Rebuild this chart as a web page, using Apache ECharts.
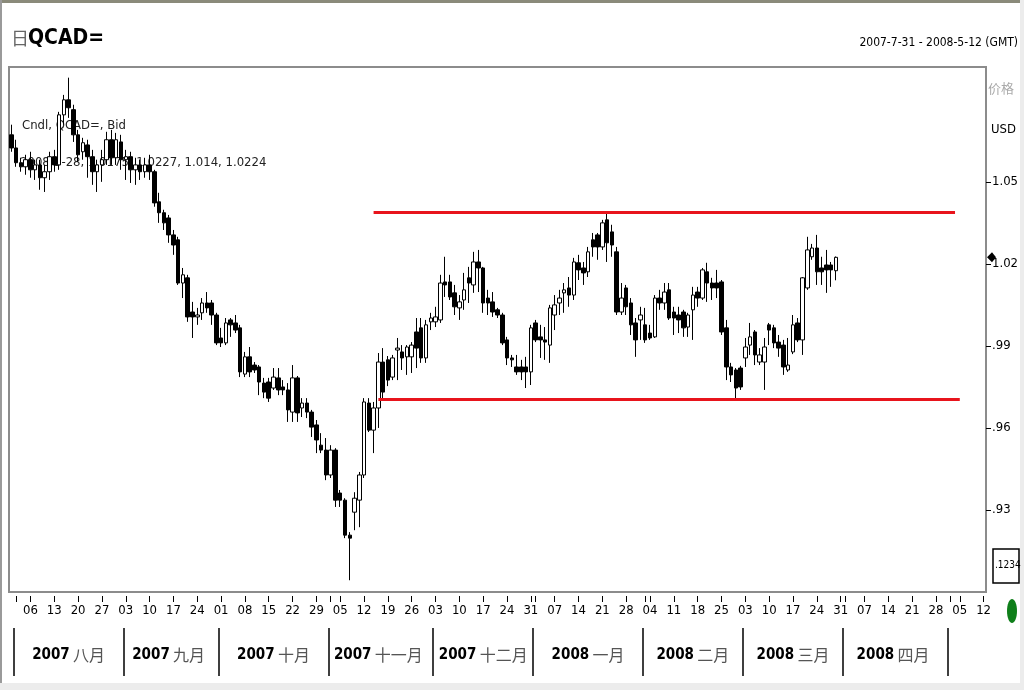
<!DOCTYPE html>
<html><head><meta charset="utf-8">
<script src="https://cdn.jsdelivr.net/npm/echarts@6/dist/echarts.min.js"></script>
<style>html,body{margin:0;padding:0;background:#fff}#c{width:1024px;height:690px}</style>
</head><body><div id="c"></div>
<script>
// ---- data ----
const firstDay = '2007-07-31';
const lastDay = '2008-05-12';
const opens = [
1.0672,1.0624,1.0570,1.0555,1.0581,1.0544,1.0562,1.0515,1.0537,1.0592,
1.0562,1.0745,1.0800,1.0764,1.0672,1.0610,1.0635,1.0592,1.0537,1.0562,
1.0581,1.0654,1.0588,1.0646,1.0581,1.0592,1.0544,1.0562,1.0537,1.0562,
1.0537,1.0427,1.0387,1.0368,1.0306,1.0288,1.0130,1.0149,1.0024,1.0006,
1.0021,1.0057,1.0057,1.0013,0.9929,0.9911,0.9995,0.9984,0.9966,0.9797,
0.9860,0.9830,0.9823,0.9764,0.9768,0.9746,0.9783,0.9750,0.9739,0.9658,
0.9783,0.9673,0.9691,0.9658,0.9611,0.9537,0.9519,0.9428,0.9519,0.9362,
0.9336,0.9208,0.9292,0.9336,0.9428,0.9691,0.9592,0.9673,0.9841,0.9849,
0.9786,0.9885,0.9878,0.9860,0.9860,0.9951,0.9966,0.9856,0.9988,0.9988,
0.9995,1.0134,1.0134,1.0094,1.0039,1.0068,1.0149,1.0123,1.0207,1.0185,
1.0075,1.0061,1.0032,1.0013,0.9922,0.9856,0.9823,0.9823,0.9823,0.9805,
0.9984,0.9933,0.9922,0.9903,1.0013,1.0057,1.0094,1.0112,1.0086,1.0204,
1.0185,1.0171,1.0288,1.0306,1.0262,1.0361,1.0317,1.0244,1.0024,1.0112,
1.0057,0.9984,0.9995,0.9977,0.9947,0.9933,1.0075,1.0057,1.0105,1.0024,
1.0013,1.0024,0.9969,1.0032,1.0097,1.0075,1.0171,1.0130,1.0130,1.0134,
0.9966,0.9823,0.9812,0.9819,0.9856,0.9903,0.9951,0.9841,0.9841,0.9977,
0.9966,0.9914,0.9903,0.9812,0.9878,0.9984,0.9922,1.0112,1.0226,1.0258,
1.0185,1.0196,1.0196,1.0175];
const closes = [
1.0624,1.0570,1.0555,1.0581,1.0544,1.0562,1.0515,1.0537,1.0592,1.0562,
1.0745,1.0800,1.0771,1.0672,1.0599,1.0643,1.0592,1.0537,1.0562,1.0581,
1.0654,1.0588,1.0654,1.0581,1.0592,1.0544,1.0562,1.0537,1.0562,1.0537,
1.0423,1.0387,1.0350,1.0306,1.0269,1.0130,1.0160,1.0006,1.0006,1.0013,
1.0057,1.0039,1.0013,0.9911,0.9911,0.9984,0.9977,0.9958,0.9805,0.9860,
0.9805,0.9812,0.9768,0.9731,0.9709,0.9786,0.9739,0.9739,0.9666,0.9783,
0.9655,0.9691,0.9658,0.9603,0.9556,0.9519,0.9428,0.9519,0.9336,0.9336,
0.9208,0.9197,0.9343,0.9428,0.9695,0.9592,0.9673,0.9841,0.9731,0.9775,
0.9856,0.9892,0.9856,0.9896,0.9903,0.9892,0.9856,0.9977,1.0002,1.0006,
1.0130,1.0123,1.0079,1.0043,1.0061,1.0105,1.0130,1.0207,1.0185,1.0057,
1.0057,1.0024,1.0013,0.9911,0.9856,0.9849,0.9805,0.9805,0.9805,0.9966,
0.9922,0.9922,0.9914,1.0039,1.0050,1.0075,1.0105,1.0086,1.0207,1.0178,
1.0167,1.0244,1.0262,1.0262,1.0350,1.0277,1.0269,1.0024,1.0075,1.0043,
0.9977,0.9922,1.0013,0.9922,0.9929,1.0075,1.0057,1.0097,1.0002,1.0002,
0.9995,0.9966,1.0013,1.0086,1.0075,1.0178,1.0130,1.0112,1.0112,0.9951,
0.9823,0.9794,0.9746,0.9750,0.9896,0.9933,0.9867,0.9867,0.9896,0.9958,
0.9911,0.9892,0.9823,0.9830,0.9977,0.9922,1.0149,1.0251,1.0258,1.0171,
1.0171,1.0178,1.0178,1.0224];
const lows = [
1.0610,1.0555,1.0537,1.0526,1.0515,1.0507,1.0471,1.0463,1.0507,1.0537,
1.0544,1.0709,1.0734,1.0646,1.0573,1.0581,1.0515,1.0489,1.0463,1.0500,
1.0562,1.0562,1.0562,1.0544,1.0507,1.0496,1.0489,1.0507,1.0515,1.0507,
1.0409,1.0350,1.0324,1.0277,1.0233,1.0123,1.0075,0.9988,0.9929,0.9977,
0.9995,1.0021,0.9977,0.9903,0.9896,0.9903,0.9933,0.9947,0.9786,0.9786,
0.9786,0.9801,0.9720,0.9709,0.9695,0.9739,0.9720,0.9720,0.9622,0.9622,
0.9622,0.9640,0.9636,0.9567,0.9508,0.9508,0.9409,0.9417,0.9311,0.9311,
0.9197,0.9043,0.9226,0.9237,0.9417,0.9585,0.9508,0.9600,0.9702,0.9753,
0.9775,0.9775,0.9812,0.9794,0.9801,0.9819,0.9838,0.9838,0.9958,0.9969,
0.9984,1.0079,1.0068,1.0013,0.9995,1.0032,1.0057,1.0094,1.0097,1.0021,
1.0013,1.0006,1.0002,0.9903,0.9830,0.9823,0.9794,0.9775,0.9746,0.9757,
0.9914,0.9856,0.9849,0.9838,0.9958,1.0013,1.0021,1.0043,1.0068,1.0141,
1.0123,1.0152,1.0226,1.0215,1.0251,1.0207,1.0226,1.0013,1.0013,1.0013,
0.9940,0.9860,0.9922,0.9911,0.9922,0.9929,1.0032,1.0032,0.9995,0.9940,
0.9947,0.9933,0.9933,0.9922,1.0043,1.0068,1.0061,1.0068,1.0075,0.9940,
0.9775,0.9768,0.9709,0.9739,0.9823,0.9867,0.9830,0.9830,0.9739,0.9903,
0.9892,0.9860,0.9794,0.9805,0.9870,0.9914,0.9867,1.0105,1.0215,1.0123,
1.0123,1.0094,1.0116,1.0140];
const highs = [
1.0709,1.0654,1.0588,1.0599,1.0610,1.0581,1.0581,1.0562,1.0610,1.0617,
1.0756,1.0818,1.0881,1.0782,1.0690,1.0661,1.0654,1.0617,1.0581,1.0617,
1.0683,1.0690,1.0679,1.0672,1.0617,1.0610,1.0588,1.0581,1.0588,1.0599,
1.0544,1.0460,1.0398,1.0379,1.0324,1.0299,1.0185,1.0160,1.0061,1.0039,
1.0075,1.0097,1.0068,1.0021,0.9966,1.0002,1.0002,1.0013,0.9977,0.9878,
0.9896,0.9841,0.9830,0.9783,0.9783,0.9819,0.9819,0.9775,0.9764,0.9830,
0.9790,0.9709,0.9709,0.9666,0.9629,0.9581,0.9563,0.9537,0.9526,0.9373,
0.9343,0.9219,0.9365,0.9439,0.9709,0.9709,0.9695,0.9874,0.9892,0.9863,
0.9867,0.9929,0.9903,0.9903,0.9914,1.0002,1.0002,0.9995,1.0021,1.0043,
1.0160,1.0226,1.0160,1.0123,1.0086,1.0167,1.0189,1.0244,1.0251,1.0189,
1.0105,1.0097,1.0039,1.0021,0.9933,0.9867,0.9867,0.9849,0.9860,0.9977,
0.9995,0.9977,0.9969,1.0050,1.0086,1.0105,1.0130,1.0152,1.0222,1.0233,
1.0207,1.0262,1.0313,1.0313,1.0361,1.0387,1.0343,1.0262,1.0130,1.0123,
1.0075,1.0002,1.0043,1.0039,0.9977,1.0086,1.0105,1.0130,1.0130,1.0043,
1.0043,1.0032,1.0021,1.0116,1.0116,1.0185,1.0204,1.0149,1.0178,1.0141,
0.9995,0.9838,0.9819,0.9827,0.9929,0.9984,0.9958,0.9892,0.9929,0.9984,
0.9977,0.9940,0.9922,0.9929,1.0013,1.0002,1.0152,1.0299,1.0273,1.0306,
1.0226,1.0251,1.0207,1.0227];
const priceTicks = [0.93, 0.96, 0.99, 1.02, 1.05];
const monthNames = ['一月','二月','三月','四月','五月','六月','七月','八月','九月','十月','十一月','十二月'];
const trendLines = [
  {from: '2007-11-14', to: '2008-05-02', value: 1.039},
  {from: '2007-11-15', to: '2008-05-05', value: 0.9705}
];
const titleText = 'QCAD=';
const rangeText = '2007-7-31 - 2008-5-12 (GMT)';
const seriesName = 'Cndl, QCAD=, Bid';
const lastDateText = '2008-3-28';

// ---- categories (weekdays) ----
const dates = [];
{
  const s = firstDay.split('-').map(Number), e = lastDay.split('-').map(Number);
  let t = Date.UTC(s[0], s[1]-1, s[2]); const te = Date.UTC(e[0], e[1]-1, e[2]);
  while (t <= te) { const d = new Date(t); const wd = d.getUTCDay();
    if (wd > 0 && wd < 6) dates.push(d.toISOString().slice(0,10)); t += 86400000; }
}
const isMonday = dates.map(d => new Date(d + 'T00:00:00Z').getUTCDay() === 1);
const isMonthStart = dates.map((d, i) => i > 0 && d.slice(5,7) !== dates[i-1].slice(5,7));
const monthMid = {};
{
  let start = 0;
  for (let i = 1; i <= dates.length; i++) {
    if (i === dates.length || isMonthStart[i]) {
      const m = dates[start].slice(0,7);
      if (start > 0 && i < dates.length) monthMid[Math.floor((start + i - 1) / 2)] = m;
      start = i;
    }
  }
}

const candleData = opens.map((o, i) => [o, closes[i], lows[i], highs[i]]);
const last = opens.length - 1;
const annot = `${lastDateText}, ${opens[last]}, ${highs[last]}, ${lows[last]}, ${closes[last]}`;

const NARROW = '"Liberation Sans Narrow","DejaVu Sans Condensed","Liberation Sans",sans-serif';

const chart = echarts.init(document.getElementById('c'), null, {renderer: 'canvas'});
const option = {
  animation: false,
  backgroundColor: '#ffffff',
  grid: {left: 9, right: 38, top: 67, bottom: 98, show: true, borderColor: '#8c8c8c', borderWidth: 2, backgroundColor: '#ffffff'},
  xAxis: [{
    type: 'category', data: dates, boundaryGap: true, position: 'bottom', offset: 4,
    axisLine: {show: false},
    axisTick: {show: true, alignWithLabel: true, length: 6, lineStyle: {color: '#000', width: 1},
      interval: (i) => isMonday[i] || isMonthStart[i]},
    axisLabel: {interval: (i) => isMonday[i], formatter: v => v.slice(8,10), margin: 8,
      color: '#000', fontSize: 13, fontFamily: NARROW},
    splitLine: {show: false}
  }, {
    type: 'category', data: dates, boundaryGap: true, position: 'bottom', offset: 36,
    axisLine: {show: false},
    axisTick: {show: true, length: 48, lineStyle: {color: '#000', width: 1.5},
      interval: (i) => isMonthStart[i]},
    axisLabel: {interval: (i) => monthMid[i] !== undefined, margin: 19,
      formatter: (v, i) => { const m = monthMid[i] || v.slice(0,7);
        return '{y|' + m.slice(0,4) + '} {m|' + monthNames[Number(m.slice(5,7)) - 1] + '}'; },
      rich: {
        y: {fontSize: 15, fontWeight: 'bold', color: '#000', fontFamily: NARROW},
        m: {fontSize: 16, color: '#555', fontFamily: '"Noto Sans CJK SC",sans-serif'}
      }},
    splitLine: {show: false}
  }],
  yAxis: {
    type: 'value', position: 'right', min: 0.9, max: 1.092, scale: true,
    axisLine: {show: false}, splitLine: {show: false},
    axisTick: {show: true, customValues: priceTicks, length: 5, lineStyle: {color: '#000'}},
    axisLabel: {customValues: priceTicks, margin: 6, color: '#000', fontSize: 13, fontFamily: NARROW,
      formatter: v => { const s = v.toFixed(2); return v < 1 ? s.slice(1) : s; }}
  },
  series: [{
    type: 'candlestick', name: seriesName, xAxisIndex: 0, yAxisIndex: 0,
    data: candleData, barWidth: 4,
    itemStyle: {color: '#ffffff', color0: '#000000', borderColor: '#000000', borderColor0: '#000000',
      borderColorDoji: '#000000', borderWidth: 1},
    markLine: {
      symbol: ['none', 'none'], silent: true, animation: false,
      label: {show: false},
      lineStyle: {color: '#e8141c', width: 3, type: 'solid'},
      emphasis: {disabled: true},
      data: trendLines.map(t => [{coord: [t.from, t.value]}, {coord: [t.to, t.value]}])
    }
  }],
  graphic: [
    {type: 'rect', shape: {x: 0, y: 0, width: 1024, height: 3}, style: {fill: '#8a8a7a'}, silent: true},
    {type: 'rect', shape: {x: 0, y: 0, width: 2, height: 690}, style: {fill: '#9a9a9a'}, silent: true},
    {type: 'rect', shape: {x: 0, y: 683, width: 1024, height: 7}, style: {fill: '#ececec'}, silent: true},
    {type: 'rect', shape: {x: 980, y: 626, width: 12, height: 56}, style: {fill: '#ffffff'}, silent: true, z: 100},
    {type: 'rect', shape: {x: 1020, y: 0, width: 4, height: 690}, style: {fill: '#ececec'}, silent: true},
    {type: 'text', left: 11, top: 29, style: {text: '日', fontSize: 18, fill: '#666', fontFamily: '"Noto Sans CJK SC",sans-serif'}},
    {type: 'text', left: 28, top: 28, style: {text: titleText, fontSize: 21, fontWeight: 'bold', fill: '#000', fontFamily: NARROW}},
    {type: 'text', right: 6, top: 37, style: {text: rangeText, fontSize: 12, fill: '#000', fontFamily: NARROW}},
    {type: 'text', left: 988, top: 82, style: {text: '价格', fontSize: 13, fill: '#aaa', fontFamily: '"Noto Sans CJK SC",sans-serif'}},
    {type: 'text', left: 991, top: 123, style: {text: 'USD', fontSize: 13, fill: '#000', fontFamily: NARROW}},
    {type: 'text', left: 22, top: 119, style: {text: seriesName, fontSize: 13, fill: '#222', fontFamily: NARROW}},
    {type: 'text', left: 20, top: 156, style: {text: annot, fontSize: 13, fill: '#222', fontFamily: NARROW}},
    {type: 'rect', shape: {x: 993, y: 549, width: 26, height: 34}, style: {fill: '#fff', stroke: '#000', lineWidth: 1.5}},
    {type: 'text', left: 995, top: 560, style: {text: '.1234', fontSize: 10, fill: '#000', fontFamily: NARROW}},
    {type: 'ellipse', shape: {cx: 1012, cy: 611, rx: 5, ry: 12}, style: {fill: '#0f7f1a'}}
  ]
};
chart.setOption(option);
// price pointer at the last close, placed through the y scale
const py = chart.convertToPixel({yAxisIndex: 0}, closes[last]);
chart.setOption({graphic: option.graphic.concat([
  {type: 'polygon', shape: {points: [[987, py], [992, py - 5], [996, py], [992, py + 5]]}, style: {fill: '#000'}}
])});
</script>
</body></html>
